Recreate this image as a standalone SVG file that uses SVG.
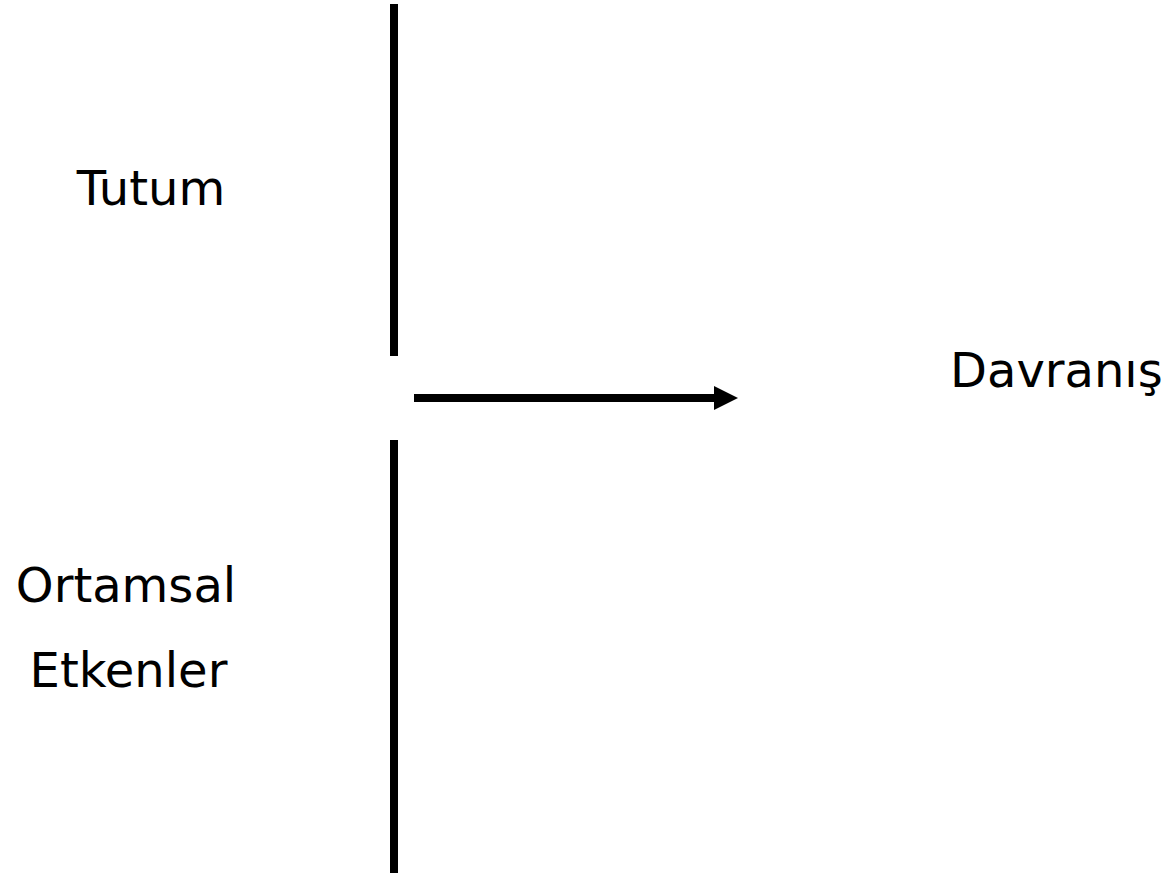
<svg xmlns="http://www.w3.org/2000/svg" width="1169" height="873" viewBox="0 0 1169 873">
<style>
.lbl{font-family:"DejaVu Sans","Verdana",sans-serif;font-size:48px;fill:#000}
.bar{stroke:#000;stroke-width:8;fill:none}
</style>
<defs>
<marker id="ah" markerUnits="userSpaceOnUse" markerWidth="24" markerHeight="24" refX="0" refY="12" orient="auto">
<path d="M0,0 L24,12 L0,24 Z" fill="#000"/>
</marker>
</defs>
<rect width="1169" height="873" fill="#fff"/>
<g id="connectors">
<line class="bar" x1="394" y1="4" x2="394" y2="356"/>
<line class="bar" x1="394" y1="440" x2="394" y2="873"/>
<line class="bar" x1="414" y1="398" x2="714" y2="398" marker-end="url(#ah)"/>
</g>
<g id="tutum"><text class="lbl" x="151" y="205" text-anchor="middle">Tutum</text></g>
<g id="ortamsal"><text class="lbl" x="126" y="602" text-anchor="middle">Ortamsal</text><text class="lbl" x="128.5" y="687" text-anchor="middle">Etkenler</text></g>
<g id="davranis"><text class="lbl" x="950" y="387">Davranış</text></g>
</svg>
